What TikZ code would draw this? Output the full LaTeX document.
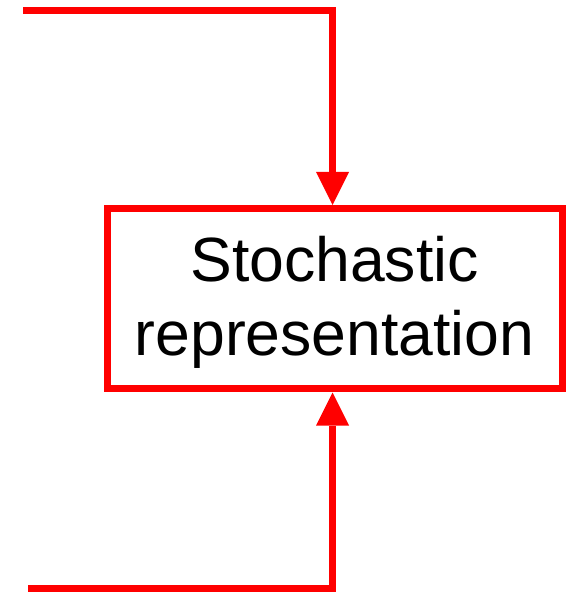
\documentclass[tikz,border=0pt]{standalone}
\usepackage{fontspec}
\setmainfont{Liberation Sans}
\usetikzlibrary{arrows.meta}
\begin{document}
\begin{tikzpicture}[x=1pt,y=-1pt,
  redline/.style={draw=red, line width=7pt},
  redtip/.style={-{Triangle[length=33pt,width=33pt,line width=0pt]}},
  boxstyle/.style={redline, rectangle, minimum width=455pt, minimum height=179.5pt,
    inner sep=0pt, align=center, font=\fontsize{62.5}{74}\selectfont}]
\useasboundingbox (0,0) rectangle (566,593);
\node[boxstyle] (box) at (334.5,298.75) {\rule{0pt}{51.6pt}Stochastic\\representation};
\coordinate (tl) at (23,11);
\coordinate (bl) at (28,588.5);
\draw[redline, redtip, shorten >=0.5pt] (tl) -| ([xshift=-2pt]box.north);
\draw[redline, redtip, shorten >=0.5pt] (bl) -| ([xshift=-2pt]box.south);
\end{tikzpicture}
\end{document}
